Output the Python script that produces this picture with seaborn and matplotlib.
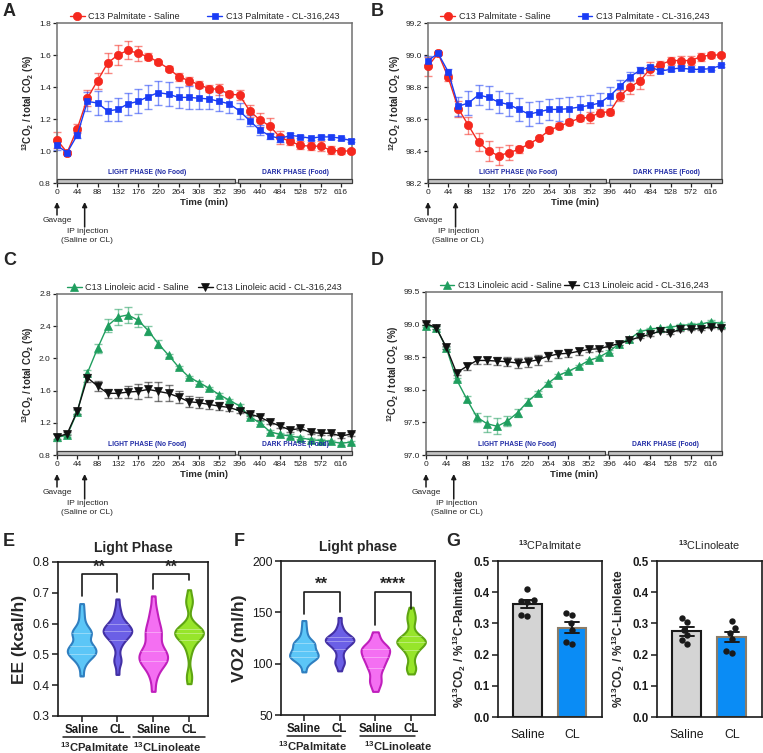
import numpy as np
import pandas as pd
import matplotlib
matplotlib.use('Agg')
import matplotlib.pyplot as plt
import seaborn as sns
from matplotlib.transforms import blended_transform_factory
from matplotlib.patches import Rectangle
from matplotlib.collections import PolyCollection

# ---------------- DATA ----------------
time_min = [0, 22, 44, 66, 88, 110, 132, 154, 176, 198, 220, 242, 264, 286, 308,
            330, 352, 374, 396, 418, 440, 462, 484, 506, 528, 550, 572, 594, 616, 638]
time_ticks = [0, 44, 88, 132, 176, 220, 264, 308, 352, 396, 440, 484, 528, 572, 616]

# Panel A: 13CO2 / total CO2 (%) - C13 Palmitate
a_saline = [1.07, 0.99, 1.14, 1.33, 1.44, 1.55, 1.60, 1.63, 1.61, 1.59, 1.555, 1.515, 1.465, 1.44, 1.415,
            1.39, 1.385, 1.355, 1.35, 1.25, 1.195, 1.155, 1.085, 1.06, 1.035, 1.03, 1.03, 1.005, 1.0, 1.0]
a_saline_sem = [0.05, 0.01, 0.03, 0.05, 0.05, 0.06, 0.06, 0.055, 0.045, 0.02, 0.01, 0.015, 0.025, 0.025, 0.02,
                0.02, 0.035, 0.02, 0.03, 0.035, 0.045, 0.05, 0.04, 0.025, 0.025, 0.025, 0.03, 0.025, 0.02, 0.01]
a_cl = [1.035, 0.99, 1.10, 1.31, 1.30, 1.25, 1.26, 1.295, 1.31, 1.34, 1.365, 1.355, 1.335, 1.335, 1.33,
        1.325, 1.31, 1.295, 1.25, 1.19, 1.13, 1.095, 1.077, 1.098, 1.09, 1.08, 1.088, 1.088, 1.08, 1.065]
a_cl_sem = [0.03, 0.01, 0.02, 0.06, 0.075, 0.065, 0.07, 0.07, 0.075, 0.075, 0.075, 0.075, 0.065, 0.07, 0.07,
            0.065, 0.06, 0.06, 0.05, 0.035, 0.03, 0.02, 0.02, 0.015, 0.01, 0.01, 0.01, 0.01, 0.01, 0.01]

# Panel B: 12CO2 / total CO2 (%) - C13 Palmitate
b_saline = [98.93, 99.01, 98.86, 98.665, 98.56, 98.455, 98.40, 98.37, 98.39, 98.41, 98.445, 98.48, 98.53, 98.555, 98.58,
            98.605, 98.61, 98.64, 98.645, 98.745, 98.80, 98.84, 98.915, 98.94, 98.965, 98.965, 98.965, 98.99, 99.0, 99.0]
b_saline_sem = [0.06, 0.01, 0.02, 0.05, 0.055, 0.055, 0.06, 0.055, 0.045, 0.02, 0.01, 0.01, 0.02, 0.02, 0.02,
                0.02, 0.035, 0.02, 0.02, 0.035, 0.045, 0.05, 0.04, 0.025, 0.025, 0.03, 0.03, 0.025, 0.02, 0.01]
b_cl = [98.965, 99.01, 98.895, 98.68, 98.70, 98.75, 98.735, 98.705, 98.69, 98.66, 98.63, 98.645, 98.66, 98.66, 98.665,
        98.675, 98.685, 98.70, 98.745, 98.805, 98.865, 98.905, 98.925, 98.90, 98.91, 98.92, 98.91, 98.91, 98.915, 98.935]
b_cl_sem = [0.03, 0.01, 0.02, 0.06, 0.075, 0.065, 0.07, 0.07, 0.07, 0.07, 0.075, 0.07, 0.065, 0.07, 0.07,
            0.07, 0.065, 0.06, 0.055, 0.04, 0.03, 0.02, 0.015, 0.01, 0.01, 0.01, 0.01, 0.01, 0.01, 0.01]

# Panel C: 13CO2 / total CO2 (%) - C13 Linoleic acid
c_saline = [1.02, 1.045, 1.335, 1.82, 2.125, 2.405, 2.515, 2.54, 2.475, 2.345, 2.18, 2.04, 1.89, 1.77, 1.70,
            1.63, 1.55, 1.48, 1.41, 1.275, 1.20, 1.09, 1.055, 1.035, 1.015, 0.99, 0.98, 0.97, 0.945, 0.96]
c_saline_sem = [0.04, 0.02, 0.03, 0.04, 0.06, 0.08, 0.1, 0.1, 0.08, 0.06, 0.05, 0.02, 0.02, 0.015, 0.015,
                0.015, 0.015, 0.015, 0.02, 0.02, 0.02, 0.02, 0.02, 0.02, 0.02, 0.02, 0.02, 0.02, 0.02, 0.02]
c_cl = [1.025, 1.063, 1.345, 1.76, 1.657, 1.566, 1.566, 1.582, 1.59, 1.615, 1.59, 1.566, 1.52, 1.462, 1.45,
        1.428, 1.407, 1.39, 1.35, 1.31, 1.27, 1.21, 1.16, 1.11, 1.13, 1.08, 1.07, 1.07, 1.035, 1.06]
c_cl_sem = [0.03, 0.02, 0.03, 0.05, 0.06, 0.06, 0.06, 0.08, 0.09, 0.09, 0.12, 0.1, 0.08, 0.07, 0.07,
            0.06, 0.05, 0.04, 0.03, 0.03, 0.03, 0.02, 0.02, 0.02, 0.02, 0.02, 0.02, 0.02, 0.02, 0.02]

# Panel D: 12CO2 / total CO2 (%) - C13 Linoleic acid
d_saline = [98.98, 98.955, 98.64, 98.158, 97.86, 97.58, 97.48, 97.44, 97.52, 97.65, 97.82, 97.955, 98.10, 98.22, 98.285,
            98.36, 98.45, 98.50, 98.587, 98.71, 98.78, 98.89, 98.93, 98.95, 98.96, 98.985, 99.0, 99.005, 99.045, 99.015]
d_saline_sem = [0.02, 0.02, 0.02, 0.03, 0.05, 0.07, 0.12, 0.12, 0.08, 0.06, 0.05, 0.02, 0.02, 0.02, 0.02,
                0.02, 0.02, 0.02, 0.02, 0.02, 0.02, 0.02, 0.02, 0.02, 0.02, 0.02, 0.02, 0.02, 0.02, 0.02]
d_cl = [99.015, 98.955, 98.65, 98.26, 98.36, 98.45, 98.45, 98.44, 98.43, 98.41, 98.43, 98.46, 98.515, 98.55, 98.56,
        98.59, 98.62, 98.63, 98.67, 98.71, 98.76, 98.81, 98.85, 98.90, 98.875, 98.925, 98.935, 98.935, 98.965, 98.95]
d_cl_sem = [0.02, 0.02, 0.02, 0.03, 0.05, 0.05, 0.05, 0.06, 0.07, 0.08, 0.08, 0.08, 0.07, 0.06, 0.06,
            0.05, 0.04, 0.03, 0.02, 0.02, 0.02, 0.02, 0.02, 0.02, 0.02, 0.02, 0.02, 0.02, 0.02, 0.02]

# Panel E: EE (kcal/h), light phase
violin_groups = ['Saline', 'CL', 'Saline ', 'CL ']
ee_sal_palm = [0.43, 0.46, 0.475, 0.485, 0.49, 0.495, 0.50, 0.50, 0.505, 0.51, 0.51, 0.515, 0.52, 0.52, 0.525,
               0.53, 0.535, 0.54, 0.55, 0.56, 0.565, 0.57, 0.57, 0.575, 0.58, 0.59, 0.60, 0.62, 0.64, 0.665]
ee_cl_palm = [0.435, 0.47, 0.48, 0.49, 0.52, 0.535, 0.545, 0.55, 0.555, 0.56, 0.565, 0.57, 0.57, 0.575, 0.575,
              0.58, 0.58, 0.585, 0.59, 0.595, 0.60, 0.60, 0.61, 0.62, 0.635, 0.65, 0.68]
ee_sal_lin = [0.38, 0.42, 0.44, 0.455, 0.465, 0.47, 0.475, 0.48, 0.485, 0.49, 0.495, 0.50, 0.505, 0.51, 0.515,
              0.525, 0.535, 0.55, 0.56, 0.57, 0.575, 0.585, 0.60, 0.61, 0.63, 0.65, 0.69]
ee_cl_lin = [0.405, 0.43, 0.435, 0.50, 0.52, 0.535, 0.545, 0.55, 0.555, 0.56, 0.565, 0.565, 0.57, 0.57, 0.57,
             0.575, 0.575, 0.58, 0.58, 0.585, 0.59, 0.60, 0.665, 0.67, 0.675, 0.71]

# Panel F: VO2 (ml/h), light phase
vo2_sal_palm = [92, 98, 101, 103, 104, 105, 106, 107, 107, 108, 109, 110, 111, 112, 113, 114, 115, 117, 118, 119,
                120, 121, 122, 124, 127, 131, 136, 142]
vo2_cl_palm = [93, 99, 101, 102, 106, 110, 114, 116, 117, 119, 120, 121, 122, 122, 123, 124, 124, 125, 126, 127,
               128, 130, 133, 137, 145]
vo2_sal_lin = [73, 79, 82, 84, 88, 92, 95, 97, 99, 101, 103, 105, 106, 107, 109, 110, 112, 113, 114, 115, 116, 117,
               119, 122, 126, 131]
vo2_cl_lin = [90, 95, 96, 97, 105, 109, 112, 114, 116, 118, 119, 120, 120, 121, 122, 122, 123, 124, 125, 126, 128,
              132, 140, 142, 147, 148, 155]

# Panel G: %13CO2 / %13C-substrate
g_cats = ['Saline', 'CL']
g_palm_saline = [0.41, 0.375, 0.372, 0.368, 0.328, 0.325]
g_palm_cl = [0.332, 0.328, 0.30, 0.28, 0.24, 0.235]
g_lin_saline = [0.318, 0.305, 0.28, 0.262, 0.248, 0.233]
g_lin_cl = [0.307, 0.285, 0.27, 0.25, 0.213, 0.206]

# ---------------- STYLE ----------------
sns.set_theme(style='ticks')
plt.rcParams['font.family'] = ['Liberation Sans', 'DejaVu Sans']
plt.rcParams['mathtext.fontset'] = 'custom'
plt.rcParams['mathtext.rm'] = 'Liberation Sans:bold'
plt.rcParams['mathtext.bf'] = 'Liberation Sans:bold'
plt.rcParams['mathtext.it'] = 'Liberation Sans:bold:italic'
plt.rcParams['mathtext.default'] = 'rm'

W, H = 763, 753
fig = plt.figure(figsize=(W / 100, H / 100), dpi=100)


def add_ax(l, t, r, b):
    return fig.add_axes([l / W, 1 - b / H, (r - l) / W, (b - t) / H])


def letter(x, y, s):
    fig.text(x / W, 1 - y / H, s, ha='left', va='top', fontsize=13, fontweight='bold')


RED, BLUE, GREEN, BLACK = '#f5281e', '#1a3cf5', '#1f9e5e', '#111111'
PHASE_TXT = '#1f2aa5'


def ts_panel(ax, s1, e1, s2, e2, lab1, lab2, c1, c2, m1, m2, ms1, ms2,
             ylim, yticks, fmt, colsp, axh):
    for s, e, lab, c, m, ms in [(s1, e1, lab1, c1, m1, ms1), (s2, e2, lab2, c2, m2, ms2)]:
        ax.errorbar(time_min, s, yerr=e, fmt='none', ecolor=c, alpha=0.55, elinewidth=1.0,
                    capsize=3, capthick=1.0, clip_on=False, zorder=2)
        sns.lineplot(x=time_min, y=s, ax=ax, color=c, marker=m, markersize=ms,
                     markeredgecolor=c, markeredgewidth=0.5, linewidth=1.0, label=lab,
                     clip_on=False, zorder=3)
    ax.set_xlim(0, 640)
    ax.set_ylim(*ylim)
    ax.set_xticks(time_ticks)
    ax.set_yticks(yticks)
    ax.set_yticklabels([fmt.format(v) for v in yticks])
    ax.tick_params(labelsize=6, length=3, width=0.9, pad=1.5, colors='#222222')
    for sp in ax.spines.values():
        sp.set_color('#707070')
        sp.set_linewidth(1.1)
    ax.set_xlabel('Time (min)', fontsize=6.8, fontweight='bold', labelpad=1.5)
    ax.legend(loc='lower center', bbox_to_anchor=(0.5, 1.0), ncol=2, frameon=False,
              fontsize=6.6, handlelength=1.6, columnspacing=colsp, handletextpad=0.4,
              borderaxespad=0.1, borderpad=0.1)
    tr = blended_transform_factory(ax.transData, ax.transAxes)
    for x0, x1 in [(0, 387), (393, 640)]:
        ax.add_patch(Rectangle((x0, 0.0), x1 - x0, 0.022, transform=tr, facecolor='#c4c4c4',
                               edgecolor='#3c3c3c', lw=0.9, clip_on=False, zorder=4))
    ax.text(196, 0.065, 'LIGHT PHASE (No Food)', transform=tr, ha='center', va='center',
            fontsize=4.8, fontweight='bold', color=PHASE_TXT)
    ax.text(518, 0.065, 'DARK PHASE (Food)', transform=tr, ha='center', va='center',
            fontsize=4.8, fontweight='bold', color=PHASE_TXT)
    f = lambda px: -px / axh
    ap = dict(arrowstyle='-|>', color='k', lw=1.1, mutation_scale=7, shrinkA=0, shrinkB=0)
    ax.annotate('', xy=(0, f(19)), xytext=(0, f(32)), xycoords=tr, textcoords=tr,
                arrowprops=ap, annotation_clip=False)
    ax.text(0, f(38), 'Gavage', transform=tr, ha='center', va='center', fontsize=6.0)
    ax.annotate('', xy=(60, f(19)), xytext=(60, f(44)), xycoords=tr, textcoords=tr,
                arrowprops=ap, annotation_clip=False)
    ax.text(66, f(45), 'IP injection\n(Saline or CL)', transform=tr, ha='center', va='top',
            fontsize=6.0, linespacing=1.35)


ylab13 = r'$^{13}$CO$_2$ / total CO$_2$ (%)'
ylab12 = r'$^{12}$CO$_2$ / total CO$_2$ (%)'

axA = add_ax(57, 23, 352, 183)
ts_panel(axA, a_saline, a_saline_sem, a_cl, a_cl_sem, 'C13 Palmitate - Saline',
         'C13 Palmitate - CL-316,243', RED, BLUE, 'o', 's', 6.0, 5.0,
         (0.8, 1.8), [0.8, 1.0, 1.2, 1.4, 1.6, 1.8], '{:.1f}', 3.0, 160)
axA.set_ylabel(ylab13, fontsize=7, fontweight='bold', labelpad=2)

axB = add_ax(428, 23, 722, 183)
ts_panel(axB, b_saline, b_saline_sem, b_cl, b_cl_sem, 'C13 Palmitate - Saline',
         'C13 Palmitate - CL-316,243', RED, BLUE, 'o', 's', 6.0, 5.0,
         (98.2, 99.2), [98.2, 98.4, 98.6, 98.8, 99.0, 99.2], '{:.1f}', 3.0, 160)
axB.set_ylabel(ylab12, fontsize=7, fontweight='bold', labelpad=2)

axC = add_ax(57, 294, 352, 455)
ts_panel(axC, c_saline, c_saline_sem, c_cl, c_cl_sem, 'C13 Linoleic acid - Saline',
         'C13 Linoleic acid - CL-316,243', GREEN, BLACK, '^', 'v', 6.0, 6.0,
         (0.8, 2.8), [0.8, 1.2, 1.6, 2.0, 2.4, 2.8], '{:.1f}', 1.0, 161)
axC.set_ylabel(ylab13, fontsize=7, fontweight='bold', labelpad=2)

axD = add_ax(426, 292, 722, 455)
ts_panel(axD, d_saline, d_saline_sem, d_cl, d_cl_sem, 'C13 Linoleic acid - Saline',
         'C13 Linoleic acid - CL-316,243', GREEN, BLACK, '^', 'v', 6.0, 6.0,
         (97.0, 99.5), [97.0, 97.5, 98.0, 98.5, 99.0, 99.5], '{:.1f}', 0.3, 163)
axD.set_ylabel(ylab12, fontsize=7, fontweight='bold', labelpad=2)

letter(3, 3, 'A')
letter(371, 3, 'B')
letter(3, 252, 'C')
letter(371, 252, 'D')

# ---------------- Violin panels ----------------
FILLS = ['#5cc6f7', '#6b5fe6', '#f46ff2', '#97e52a']
EDGES = ['#2f7fc0', '#4330a5', '#c01fbd', '#5ea512']


def violin_panel(ax, groups_data, ylim, yticks, xlim, ylabel, title, brackets, grp_lines, grp_labels):
    df = pd.DataFrame({'grp': np.concatenate([[g] * len(d) for g, d in zip(violin_groups, groups_data)]),
                       'val': np.concatenate(groups_data)})
    sns.violinplot(data=df, x='grp', y='val', hue='grp', order=violin_groups, hue_order=violin_groups,
                   palette=FILLS, inner=None, cut=0, bw_adjust=0.55, density_norm='width',
                   width=0.8, linewidth=1.5, saturation=1, legend=False, ax=ax)
    polys = [c for c in ax.collections if isinstance(c, PolyCollection)][:4]
    for i, coll in enumerate(polys):
        coll.set_facecolor(FILLS[i])
        coll.set_edgecolor(EDGES[i])
        coll.set_linewidth(1.5)
        verts = coll.get_paths()[0].vertices
        right = verts[verts[:, 0] >= i]
        order = np.argsort(right[:, 1])
        ry, rx = right[order, 1], right[order, 0]
        for q in np.percentile(groups_data[i], [25, 50, 75]):
            hw = np.interp(q, ry, rx) - i
            ax.plot([i - hw * 0.97, i + hw * 0.97], [q, q], color='white', alpha=0.35, lw=0.7, zorder=3)
    ax.set_xlim(*xlim)
    ax.set_ylim(*ylim)
    ax.set_yticks(yticks)
    ax.set_xlabel('')
    ax.set_ylabel(ylabel, fontsize=12.5, fontweight='bold', labelpad=4)
    ax.set_title(title, fontsize=10, fontweight='bold', pad=7)
    ax.set_xticks([0, 1, 2, 3])
    ax.set_xticklabels(['Saline', 'CL', 'Saline', 'CL'], fontweight='bold')
    ax.tick_params(axis='x', labelsize=8.3, length=4, width=1.1, pad=2, colors='k')
    ax.tick_params(axis='y', labelsize=8.8, length=4, width=1.1, pad=2, colors='k')
    for sp in ax.spines.values():
        sp.set_visible(True)
        sp.set_color('k')
        sp.set_linewidth(1.2)
    for x0, x1, top, l0, l1, stars in brackets:
        ax.plot([x0, x0, x1, x1], [l0, top, top, l1], color='k', lw=1.2, zorder=5)
        ax.text((x0 + x1) / 2, top, stars, ha='center', va='bottom', fontsize=12,
                fontweight='bold')
    tr = blended_transform_factory(ax.transData, ax.transAxes)
    for (x0, x1), (xc, lab) in zip(grp_lines, grp_labels):
        ax.plot([x0, x1], [-0.137, -0.137], transform=tr, color='k', lw=1.1, clip_on=False)
        ax.text(xc, -0.155, lab, transform=tr, ha='center', va='top', fontsize=8.1,
                fontweight='bold')


axE = add_ax(58, 562, 208, 716)
violin_panel(axE, [ee_sal_palm, ee_cl_palm, ee_sal_lin, ee_cl_lin], (0.3, 0.8),
             [0.3, 0.4, 0.5, 0.6, 0.7, 0.8], (-0.66, 3.53), 'EE (kcal/h)', 'Light Phase',
             [(0, 1, 0.76, 0.689, 0.703, '**'), (2, 3, 0.76, 0.711, 0.741, '**')],
             [(-0.52, 1.35), (1.44, 3.45)],
             [(0.37, r'$^{13}$CPalmitate'), (2.38, r'$^{13}$CLinoleate')])

axF = add_ax(281, 561, 435, 715)
violin_panel(axF, [vo2_sal_palm, vo2_cl_palm, vo2_sal_lin, vo2_cl_lin], (50, 200),
             [50, 100, 150, 200], (-0.64, 3.67), 'VO2 (ml/h)', 'Light phase',
             [(0, 1, 170, 148, 150, '**'), (2, 3, 170, 138, 153, '****')],
             [(-0.48, 1.05), (1.57, 3.1)],
             [(0.25, r'$^{13}$CPalmitate'), (2.63, r'$^{13}$CLinoleate')])

letter(3, 533, 'E')
letter(234, 533, 'F')
letter(446, 533, 'G')


# ---------------- Bar panels ----------------
def bar_panel(ax, sal, cl, title, ylabel):
    xs = [g_cats[0]] * len(sal) + [g_cats[1]] * len(cl)
    ys = list(sal) + list(cl)
    sns.barplot(x=xs, y=ys, hue=xs, palette=['#d4d4d4', '#0a8cf5'], errorbar='se', capsize=0.3,
                width=0.64, saturation=1, err_kws={'color': 'k', 'linewidth': 1.4},
                edgecolor='k', linewidth=1.5, legend=False, ax=ax)
    ax.patches[1].set_edgecolor('#8a7c68')
    sns.swarmplot(x=xs, y=ys, color='k', size=4.6, ax=ax, zorder=5)
    ax.set_xlim(-0.66, 1.67)
    ax.set_ylim(0, 0.5)
    ax.set_yticks([0.0, 0.1, 0.2, 0.3, 0.4, 0.5])
    ax.set_yticklabels(['0.0', '0.1', '0.2', '0.3', '0.4', '0.5'], fontweight='bold')
    ax.tick_params(axis='y', labelsize=8.3, length=4, width=1.1, pad=2, colors='k')
    ax.tick_params(axis='x', labelsize=8.8, length=0, pad=9, colors='k')
    for sp in ax.spines.values():
        sp.set_visible(True)
        sp.set_color('k')
        sp.set_linewidth(1.2)
    ax.set_title(title, fontsize=7.8, pad=8)
    ax.set_ylabel(ylabel, fontsize=8.5, fontweight='bold', labelpad=4)


axG1 = add_ax(498, 561, 602, 717)
bar_panel(axG1, g_palm_saline, g_palm_cl, r'$^{13}$CPalmitate', r'%$^{13}$CO$_2$ / %$^{13}$C-Palmitate')
axG2 = add_ax(657, 561, 762, 717)
bar_panel(axG2, g_lin_saline, g_lin_cl, r'$^{13}$CLinoleate', r'%$^{13}$CO$_2$ / %$^{13}$C-Linoleate')

fig.savefig('out.png', dpi=100)
